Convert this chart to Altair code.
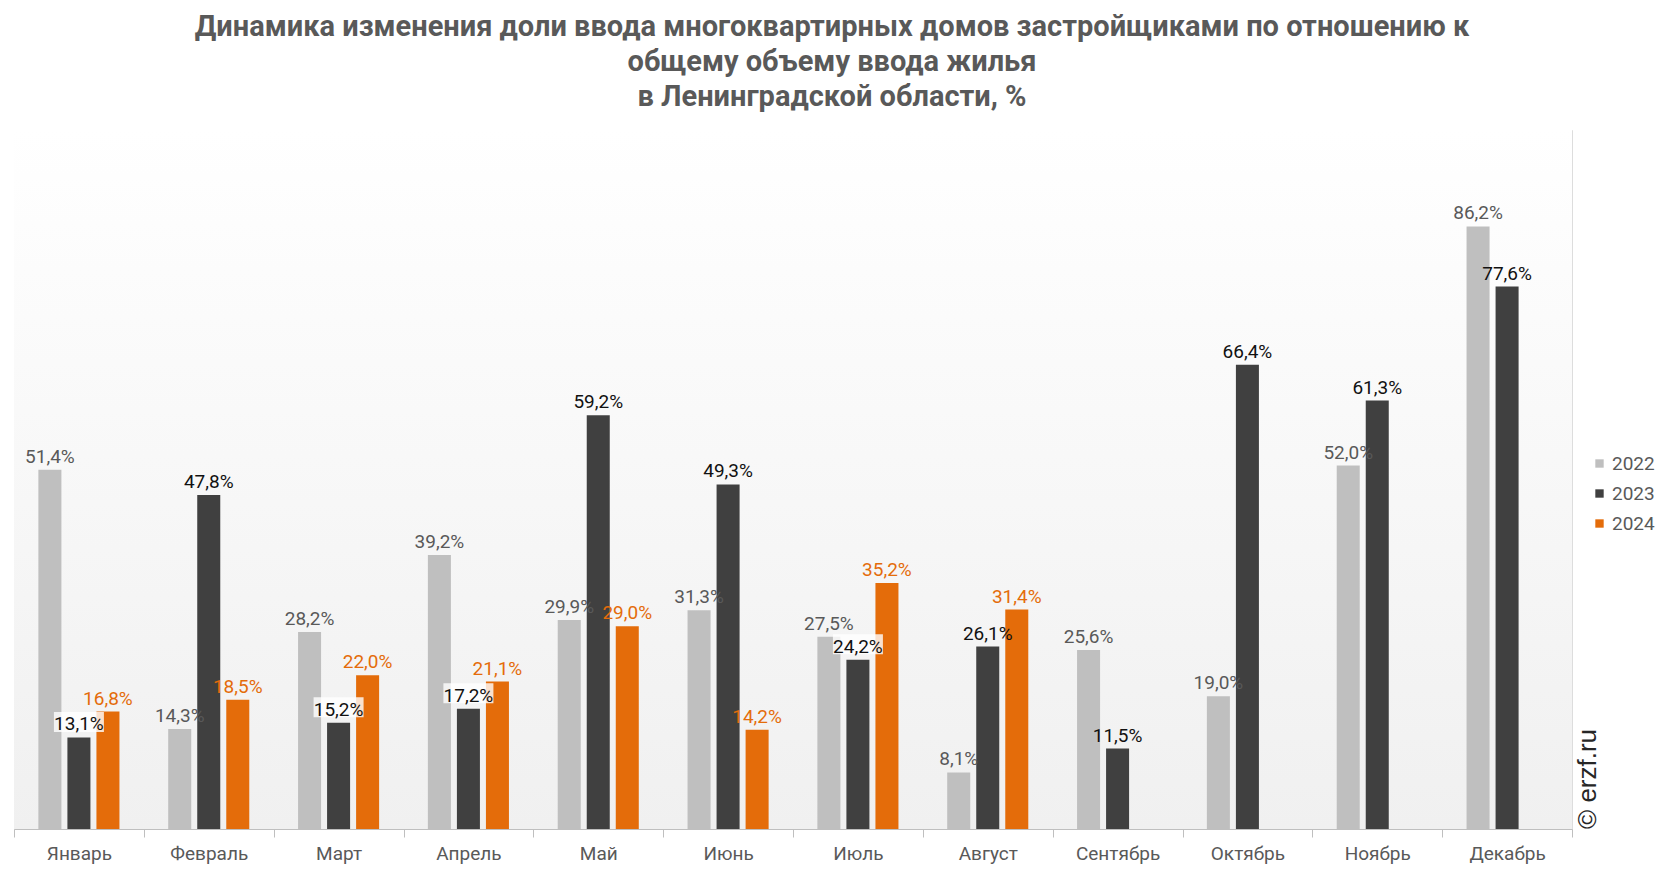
import altair as alt
import pandas as pd

months = ["Январь", "Февраль", "Март", "Апрель", "Май", "Июнь", "Июль",
          "Август", "Сентябрь", "Октябрь", "Ноябрь", "Декабрь"]
years = ["2022", "2023", "2024"]
v2022 = [51.4, 14.3, 28.2, 39.2, 29.9, 31.3, 27.5, 8.1, 25.6, 19.0, 52.0, 86.2]
v2023 = [13.1, 47.8, 15.2, 17.2, 59.2, 49.3, 24.2, 26.1, 11.5, 66.4, 61.3, 77.6]
v2024 = [16.8, 18.5, 22.0, 21.1, 29.0, 14.2, 35.2, 31.4, None, None, None, None]
boxed_months = ["Январь", "Март", "Апрель", "Июль"]

bar_colors = ["#bfbfbf", "#404040", "#e46c0a"]
label_colors = ["#595959", "#111111", "#e46c0a"]

rows = []
for y, vals in zip(years, [v2022, v2023, v2024]):
    for m, v in zip(months, vals):
        if v is not None:
            rows.append({"month": m, "year": y, "value": v})
df = pd.DataFrame(rows)

W, H = 1558, 699

x_enc = alt.X("month:N", sort=months, title=None,
              scale=alt.Scale(paddingInner=0, paddingOuter=0),
              axis=alt.Axis(labelAngle=0, tickBand="extent", domainColor="#bfbfbf",
                            tickColor="#bfbfbf", tickSize=8, labelFontSize=19,
                            labelFont="Roboto", labelColor="#595959", labelPadding=7))
xo_enc = alt.XOffset("year:N", scale=alt.Scale(domain=years, paddingInner=0.207, paddingOuter=0.84))
y_enc = alt.Y("value:Q", scale=alt.Scale(domain=[0, 100]), axis=None)

grad = {"gradient": "linear", "x1": 0, "x2": 0, "y1": 0, "y2": 1,
        "stops": [{"color": "#ffffff", "offset": 0}, {"color": "#f0f0f0", "offset": 1}]}
bg = alt.Chart(pd.DataFrame({"a": [0]})).mark_rect(color=grad).encode(
    x=alt.value(0), x2=alt.value(W), y=alt.value(0), y2=alt.value(H))

base = alt.Chart(df)

bars = base.mark_bar().encode(
    x=x_enc, xOffset=xo_enc, y=y_enc,
    color=alt.Color("year:N", scale=alt.Scale(domain=years, range=bar_colors),
                    legend=alt.Legend(title=None, orient="none", legendX=1576, legendY=324,
                                      symbolType="square", symbolSize=70, labelFontSize=19,
                                      labelFont="Roboto", labelColor="#595959", rowPadding=10,
                                      labelOffset=3, symbolStrokeWidth=0)),
)

boxes = base.transform_filter(
    alt.FieldOneOfPredicate(field="month", oneOf=boxed_months)
).transform_filter(alt.datum.year == "2023").mark_point(
    shape="M-1,-1.02H1V-0.22H-1Z", filled=True, size=2500, color="#ffffff", opacity=0.8, strokeWidth=0
).encode(x=x_enc, xOffset=xo_enc, y=y_enc)

labels = base.transform_calculate(
    label="replace(format(datum.value, '.1f'), '.', ',') + '%'"
).mark_text(baseline="bottom", dy=-3, fontSize=19, font="Roboto").encode(
    x=x_enc, xOffset=xo_enc, y=y_enc, text="label:N",
    color=alt.Color("year:N", scale=alt.Scale(domain=years, range=label_colors), legend=None),
)

wm = alt.Chart(pd.DataFrame({"t": ["© erzf.ru"]})).mark_text(
    angle=270, align="left", baseline="middle", fontSize=26, font="Liberation Sans", color="#262626"
).encode(x=alt.value(1574), y=alt.value(H), text="t:N")

chart = alt.layer(bg, bars, boxes, labels, wm).resolve_scale(color="independent").properties(
    width=W, height=H,
    title=alt.TitleParams(
        text=["Динамика изменения доли ввода многоквартирных домов застройщиками по отношению к",
              "общему объему ввода жилья", "в Ленинградской области, %"],
        font="Roboto", fontSize=29, fontWeight="bold", color="#595959",
        anchor="middle", dx=39, offset=18, lineHeight=35),
    autosize=alt.AutoSizeParams(type="none"),
    padding={"left": 14, "top": 130, "right": 94, "bottom": 43},
).configure_view(
    stroke="#d9d9d9",
).configure(background="#ffffff")

chart.save("out.html", embed_options={"renderer": "svg", "actions": False})
